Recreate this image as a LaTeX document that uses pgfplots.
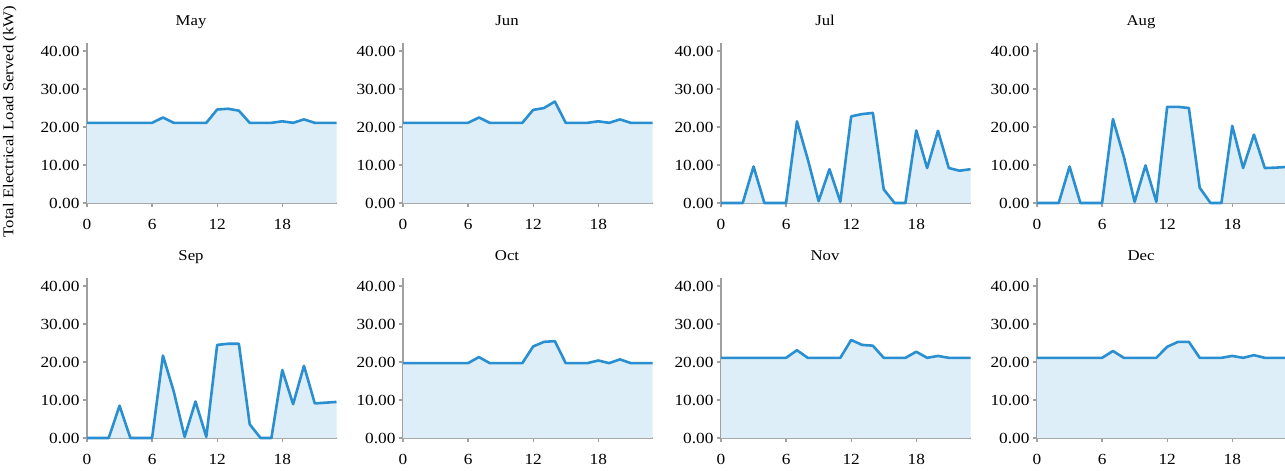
\documentclass[border=0pt]{standalone}
\usepackage{fontspec}
\setmainfont{Liberation Serif}[FakeStretch=1.12]
\usepackage{pgfplots}
\usepackage{pgfplotstable}
\pgfplotsset{compat=1.18}

\definecolor{loadline}{HTML}{2A8FD0}
\definecolor{loadfill}{HTML}{DDEEF8}
\definecolor{axisgray}{HTML}{A0A0A0}

% hourly load (kW) per month
\pgfplotstableread{
h  may  jun  jul  aug  sep  oct  nov  dec
0  21.1 21.1 0    0    0    19.7 21.1 21.1
1  21.1 21.1 0    0    0    19.7 21.1 21.1
2  21.1 21.1 0    0    0    19.7 21.1 21.1
3  21.1 21.1 9.6  9.6  8.5  19.7 21.1 21.1
4  21.1 21.1 0    0    0    19.7 21.1 21.1
5  21.1 21.1 0    0    0    19.7 21.1 21.1
6  21.1 21.1 0    0    0    19.7 21.1 21.1
7  22.5 22.5 21.5 22.1 21.7 21.3 23.1 22.9
8  21.1 21.1 11.5 12.2 12.2 19.7 21.1 21.1
9  21.1 21.1 0.5  0.3  0.3  19.7 21.1 21.1
10 21.1 21.1 8.9  9.9  9.6  19.7 21.1 21.1
11 21.1 21.1 0.3  0.3  0.3  19.7 21.1 21.1
12 24.6 24.5 22.8 25.3 24.5 24.1 25.8 24.0
13 24.8 25.0 23.4 25.3 24.8 25.3 24.5 25.3
14 24.3 26.7 23.7 25.0 24.8 25.5 24.3 25.3
15 21.1 21.1 3.6  4.0  3.6  19.7 21.1 21.1
16 21.1 21.1 0    0    0    19.7 21.1 21.1
17 21.1 21.1 0    0    0    19.7 21.1 21.1
18 21.5 21.5 19.1 20.3 17.9 20.4 22.7 21.6
19 21.1 21.1 9.2  9.2  8.9  19.7 21.1 21.1
20 22.0 22.0 19.0 18.0 19.0 20.7 21.6 21.8
21 21.1 21.1 9.2  9.2  9.1  19.7 21.1 21.1
22 21.1 21.1 8.5  9.3  9.3  19.7 21.1 21.1
23 21.1 21.1 8.9  9.5  9.5  19.7 21.1 21.1
}\loaddata

\pgfplotsset{
  panel/.style={
    anchor=south west,
    scale only axis,
    width=249.5bp, height=159.6bp,
    xmin=0, xmax=23, ymin=0, ymax=42,
    axis x line=bottom, axis y line=left,
    axis line style={axisgray, line width=1.9bp, -},
    xtick={0,6,12,18}, ytick={0,10,20,30,40},
    tick align=outside, major tick length=4bp,
    tick style={axisgray, line width=1.3bp},
    /pgf/number format/assume math mode=true,
    y tick label style={/pgf/number format/fixed,
      /pgf/number format/fixed zerofill,
      /pgf/number format/precision=2},
    tick label style={font=\fontsize{15.5}{18}\selectfont},
    x tick label style={yshift=-9bp},
    title style={at={(0.417,1)}, anchor=base, yshift=12bp,
      font=\fontsize{15}{18}\selectfont},
    label style={font=\fontsize{15}{18}\selectfont},
    clip=false,
  }
}

% #1 extra options, #2 x, #3 y, #4 column, #5 title
\newcommand{\panel}[5][]{%
  \begin{axis}[panel, at={(#2bp,#3bp)}, title={#5}, #1]
    \addplot[fill=loadfill, draw=none] table[x=h, y=#4]{\loaddata} \closedcycle;
    \addplot[loadline, line width=2.6bp, line join=round] table[x=h, y=#4]{\loaddata};
  \end{axis}}

\begin{document}
\begin{tikzpicture}
  \useasboundingbox (0,0) rectangle (1285bp,-471bp);
  \panel[ylabel={Total Electrical Load Served (kW)},
    ylabel style={at={(axis description cs:-0.309,0.51)}, anchor=center}]
    {87}{-203}{may}{May}
  \panel{403}{-203}{jun}{Jun}
  \panel{721}{-203}{jul}{Jul}
  \panel{1037}{-203}{aug}{Aug}
  \panel{87}{-438}{sep}{Sep}
  \panel{403}{-438}{oct}{Oct}
  \panel{721}{-438}{nov}{Nov}
  \panel{1037}{-438}{dec}{Dec}
\end{tikzpicture}
\end{document}
